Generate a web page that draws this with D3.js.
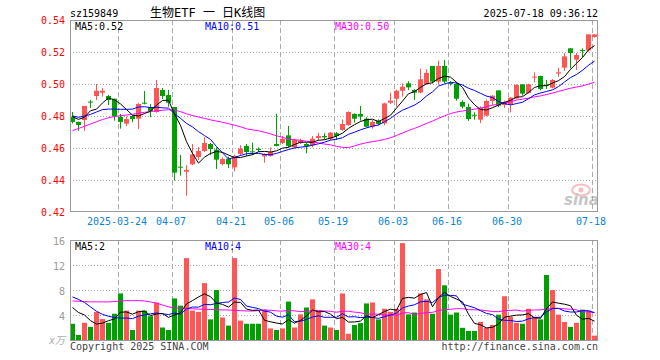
<!DOCTYPE html>
<html>
<head>
<meta charset="utf-8">
<script src="https://cdn.jsdelivr.net/npm/d3@7"></script>
<style>
  body { margin: 0; background: #fff; }
  text { font-family: "DejaVu Sans Mono", "Noto Sans CJK SC", monospace; }
</style>
</head>
<body>
<div id="chart"></div>
<script>
// trading days shown on the chart
var dates = [
  "2025-03-12","2025-03-13","2025-03-14","2025-03-17","2025-03-18","2025-03-19","2025-03-20","2025-03-21",
  "2025-03-24","2025-03-25","2025-03-26","2025-03-27","2025-03-28","2025-03-31",
  "2025-04-01","2025-04-02","2025-04-03","2025-04-07","2025-04-08","2025-04-09","2025-04-10","2025-04-11",
  "2025-04-14","2025-04-15","2025-04-16","2025-04-17","2025-04-18","2025-04-21","2025-04-22","2025-04-23",
  "2025-04-24","2025-04-25","2025-04-28","2025-04-29","2025-04-30",
  "2025-05-06","2025-05-07","2025-05-08","2025-05-09","2025-05-12","2025-05-13","2025-05-14","2025-05-15",
  "2025-05-16","2025-05-19","2025-05-20","2025-05-21","2025-05-22","2025-05-23","2025-05-26","2025-05-27",
  "2025-05-28","2025-05-29","2025-05-30",
  "2025-06-03","2025-06-04","2025-06-05","2025-06-06","2025-06-09","2025-06-10","2025-06-11","2025-06-12",
  "2025-06-13","2025-06-16","2025-06-17","2025-06-18","2025-06-19","2025-06-20","2025-06-23","2025-06-24",
  "2025-06-25","2025-06-26","2025-06-27","2025-06-30",
  "2025-07-01","2025-07-02","2025-07-03","2025-07-04","2025-07-07","2025-07-08","2025-07-09","2025-07-10",
  "2025-07-11","2025-07-14","2025-07-15","2025-07-16","2025-07-17","2025-07-18"
];

var open = [
  0.4796,0.4763,0.4775,0.4890,0.4925,0.4946,0.4925,0.4908,0.4794,0.4752,
  0.4800,0.4783,0.4883,0.4856,0.4825,0.4963,0.4931,0.4856,0.4483,0.4452,
  0.4498,0.4544,0.4581,0.4625,0.4590,0.4500,0.4533,0.4479,0.4563,0.4613,
  0.4579,0.4594,0.4548,0.4550,0.4625,0.4631,0.4679,0.4604,0.4633,0.4625,
  0.4617,0.4663,0.4675,0.4658,0.4692,0.4713,0.4744,0.4813,0.4813,0.4783,
  0.4733,0.4771,0.4754,0.4883,0.4908,0.4958,0.5004,0.4963,0.4946,0.5000,
  0.5113,0.5015,0.5113,0.5006,0.5000,0.4888,0.4856,0.4808,0.4777,0.4802,
  0.4894,0.4960,0.4869,0.4873,0.4910,0.4998,0.4944,0.5042,0.5050,0.4996,
  0.4977,0.5065,0.5102,0.5223,0.5152,0.5213,0.5210,0.5294
];
var high = [
  0.4825,0.4765,0.4863,0.4900,0.5000,0.4975,0.4931,0.4908,0.4813,0.4796,
  0.4806,0.4883,0.4956,0.4875,0.5025,0.4975,0.4963,0.4856,0.4556,0.4494,
  0.4625,0.4606,0.4667,0.4631,0.4604,0.4542,0.4546,0.4558,0.4617,0.4625,
  0.4633,0.4604,0.4567,0.4604,0.4813,0.4675,0.4738,0.4658,0.4658,0.4631,
  0.4675,0.4696,0.4692,0.4700,0.4700,0.4779,0.4829,0.4817,0.4863,0.4792,
  0.4775,0.4779,0.4883,0.4946,0.4963,0.5004,0.5017,0.4967,0.5096,0.5092,
  0.5113,0.5146,0.5150,0.5017,0.5008,0.4898,0.4877,0.4823,0.4860,0.4902,
  0.4931,0.4960,0.4896,0.4919,0.4998,0.5000,0.5002,0.5073,0.5052,0.5025,
  0.5031,0.5102,0.5194,0.5225,0.5194,0.5223,0.5310,0.5313
];
var low = [
  0.4754,0.4708,0.4706,0.4850,0.4900,0.4921,0.4869,0.4771,0.4721,0.4738,
  0.4761,0.4719,0.4873,0.4792,0.4821,0.4906,0.4858,0.4396,0.4427,0.4302,
  0.4494,0.4525,0.4575,0.4556,0.4469,0.4492,0.4475,0.4454,0.4550,0.4550,
  0.4556,0.4575,0.4508,0.4546,0.4610,0.4625,0.4604,0.4598,0.4625,0.4567,
  0.4604,0.4646,0.4654,0.4650,0.4650,0.4708,0.4738,0.4758,0.4771,0.4729,
  0.4721,0.4742,0.4742,0.4875,0.4858,0.4921,0.4963,0.4900,0.4942,0.4996,
  0.5004,0.4996,0.5004,0.4990,0.4896,0.4848,0.4769,0.4777,0.4756,0.4798,
  0.4869,0.4856,0.4850,0.4823,0.4906,0.4927,0.4940,0.5010,0.4960,0.4969,
  0.4973,0.5044,0.5081,0.5098,0.5088,0.5169,0.5202,0.5290
];
var close = [
  0.4763,0.4744,0.4863,0.4885,0.4958,0.4958,0.4900,0.4800,0.4763,0.4781,
  0.4781,0.4875,0.4879,0.4831,0.4975,0.4925,0.4883,0.4446,0.4479,0.4463,
  0.4560,0.4581,0.4631,0.4594,0.4527,0.4531,0.4498,0.4550,0.4596,0.4575,
  0.4573,0.4588,0.4563,0.4575,0.4613,0.4658,0.4613,0.4650,0.4646,0.4613,
  0.4658,0.4675,0.4667,0.4696,0.4675,0.4750,0.4825,0.4783,0.4796,0.4733,
  0.4763,0.4750,0.4879,0.4896,0.4958,0.4983,0.4979,0.4946,0.5029,0.5070,
  0.5015,0.5113,0.5015,0.5002,0.4908,0.4858,0.4781,0.4804,0.4852,0.4894,
  0.4927,0.4865,0.4888,0.4915,0.4994,0.4940,0.4998,0.5046,0.4969,0.4992,
  0.5025,0.5073,0.5173,0.5194,0.5181,0.5206,0.5310,0.5310
];
// volume, in 万
var volume = [
  2.6,0.8,2.75,2.1,4.5,3.35,2.75,4.2,7.45,4.7,
  1.6,4.7,4.7,3.8,6.0,2.0,1.6,6.65,5.5,13.1,
  4.7,4.5,9.1,3.3,8.0,3.6,2.3,13.1,3.1,2.6,
  2.6,2.6,4.9,1.85,1.6,1.85,6.15,2.0,4.1,5.2,
  6.5,4.7,2.3,2.0,1.6,7.45,1.0,2.4,2.7,5.85,
  6.0,3.3,5.0,4.5,5.0,15.5,4.1,4.4,7.45,6.5,
  4.2,11.35,8.75,4.05,4.4,1.95,1.45,1.45,2.9,1.95,
  2.4,4.05,7.0,3.7,2.75,2.6,5.0,3.7,3.3,10.4,
  8.0,4.05,2.9,2.1,2.75,4.85,4.7,0.7
];

// moving average values at the left edge (their windows start before the chart)
var ma5Head = [0.4796,0.4779,0.4792,0.4833];
var ma10Head = [0.4800,0.4792,0.4800,0.4810,0.4825,0.4840,0.4843,0.4843,0.4842];
var ma30Head = [0.4708,0.4722,0.4736,0.4750,0.4764,0.4778,0.4789,0.4797,0.4802,0.4806,
  0.4811,0.4817,0.4823,0.4828,0.4832,0.4836,0.4839,0.4838,0.4827,0.4814,
  0.4803,0.4794,0.4785,0.4776,0.4768,0.4761,0.4752,0.4743,0.4733];
var vma5Head = [5.2,4.4,4.0,3.1];
var vma10Head = [6.9,6.5,6.0,5.3,4.6,4.1,3.8,3.6,3.5];
var vma30Head = [6.25,6.2,6.15,6.1,6.1,6.1,6.1,6.15,6.25,6.3,
  6.3,6.3,6.25,6.1,5.9,5.6,5.3,5.15,5.1,5.05,
  5.0,4.95,4.9,4.88,4.85,4.82,4.8,4.75,4.7];

var tickDates = ["2025-03-24","2025-04-07","2025-04-21","2025-05-06","2025-05-19","2025-06-03","2025-06-16","2025-06-30","2025-07-18"];
var tickLabels = ["2025-03-24","04-07","04-21","05-06","05-19","06-03","06-16","06-30","07-18"];
var priceTicks = [0.42,0.44,0.46,0.48,0.50,0.52,0.54];
var volTicks = [4,8,12,16];

var RED = "#ff5555", GREEN = "#00a000";
var W = 660, H = 360;
var left = 70, right = 598;

function movingAvg(values, n, head) {
  return values.map(function (v, i) {
    if (i < n - 1) return head[i];
    return d3.mean(values.slice(i - n + 1, i + 1));
  });
}

var svg = d3.select("#chart").append("svg").attr("width", W).attr("height", H);

var x = d3.scaleBand().domain(dates).range([left, 597]).paddingInner(1 / 6).paddingOuter(0);
var bw = x.bandwidth();
function cx(d) { return x(d) + bw / 2; }

var y = d3.scaleLinear().domain([0.42, 0.54]).range([212, 20]);
var yv = d3.scaleLinear().domain([0, 16]).range([340, 240]);

// ---------- grid ----------
var grid = svg.append("g");
grid.selectAll(".hp").data([0.44, 0.46, 0.48, 0.50, 0.52]).enter().append("line")
  .attr("x1", left).attr("x2", right)
  .attr("y1", function (d) { return Math.round(y(d)) + 0.5; })
  .attr("y2", function (d) { return Math.round(y(d)) + 0.5; })
  .attr("stroke", "#aaa").attr("stroke-dasharray", "1,2");
grid.selectAll(".hv").data([4, 8, 12]).enter().append("line")
  .attr("x1", left).attr("x2", right)
  .attr("y1", function (d) { return Math.round(yv(d)) + 0.5; })
  .attr("y2", function (d) { return Math.round(yv(d)) + 0.5; })
  .attr("stroke", "#aaa").attr("stroke-dasharray", "1,2");
[[20, 211], [240, 340]].forEach(function (r) {
  grid.selectAll(null).data(tickDates).enter().append("line")
    .attr("x1", function (d) { return x(d) + 0.5; })
    .attr("x2", function (d) { return x(d) + 0.5; })
    .attr("y1", r[0]).attr("y2", r[1])
    .attr("stroke", "#aaa").attr("stroke-dasharray", "5,3");
});

// sina watermark
var wm = svg.append("g").attr("opacity", 0.55);
wm.append("ellipse").attr("cx", 581).attr("cy", 190).attr("rx", 9).attr("ry", 5.5)
  .attr("fill", "none").attr("stroke", "#f08a8a").attr("stroke-width", 2);
wm.append("circle").attr("cx", 581).attr("cy", 190).attr("r", 2.5).attr("fill", "#f08a8a");
wm.append("text").attr("x", 564).attr("y", 205).text("sina")
  .style("font-family", "DejaVu Sans").style("font-weight", "bold").style("font-style", "italic")
  .style("font-size", "15px").attr("fill", "#999");

// ---------- candles ----------
var idx = d3.range(dates.length);
var candles = svg.append("g").selectAll("g").data(idx).enter().append("g");
candles.append("line")
  .attr("x1", function (i) { return Math.floor(cx(dates[i])) + 0.5; })
  .attr("x2", function (i) { return Math.floor(cx(dates[i])) + 0.5; })
  .attr("y1", function (i) { return y(high[i]); })
  .attr("y2", function (i) { return y(low[i]); })
  .attr("stroke", function (i) { return close[i] >= open[i] ? RED : GREEN; });
candles.append("rect")
  .attr("x", function (i) { return x(dates[i]); })
  .attr("width", bw)
  .attr("y", function (i) { return y(Math.max(open[i], close[i])); })
  .attr("height", function (i) { return Math.max(1, Math.abs(y(open[i]) - y(close[i]))); })
  .attr("fill", function (i) { return close[i] >= open[i] ? RED : GREEN; });

// ---------- volume bars ----------
svg.append("g").selectAll("rect").data(idx).enter().append("rect")
  .attr("x", function (i) { return x(dates[i]); })
  .attr("width", bw)
  .attr("y", function (i) { return yv(volume[i]); })
  .attr("height", function (i) { return yv(0) - yv(volume[i]); })
  .attr("fill", function (i) { return close[i] >= open[i] ? RED : GREEN; });

// ---------- moving averages ----------
var maDefs = [
  { n: 5, head: ma5Head, vhead: vma5Head, color: "#000" },
  { n: 10, head: ma10Head, vhead: vma10Head, color: "#0000ff" },
  { n: 30, head: ma30Head, vhead: vma30Head, color: "#ff00ff" }
];
maDefs.slice().reverse().forEach(function (m) {
  var p = movingAvg(close, m.n, m.head);
  var v = movingAvg(volume, m.n, m.vhead);
  svg.append("path").datum(idx)
    .attr("d", d3.line().x(function (i) { return cx(dates[i]); }).y(function (i) { return y(p[i]); }))
    .attr("fill", "none").attr("stroke", m.color).attr("stroke-width", 1);
  svg.append("path").datum(idx)
    .attr("d", d3.line().x(function (i) { return cx(dates[i]); }).y(function (i) { return yv(v[i]); }))
    .attr("fill", "none").attr("stroke", m.color).attr("stroke-width", 1);
});

// ---------- frames ----------
svg.append("rect").attr("x", left + 0.5).attr("y", 20.5).attr("width", right - left - 1).attr("height", 191)
  .attr("fill", "none").attr("stroke", "#999");
svg.append("rect").attr("x", left + 0.5).attr("y", 240.5).attr("width", right - left - 1).attr("height", 100)
  .attr("fill", "none").attr("stroke", "#999");

// ---------- axes ----------
var yAxis = svg.append("g").attr("transform", "translate(" + left + ",0)")
  .call(d3.axisLeft(y).tickValues(priceTicks).tickFormat(d3.format(".2f")).tickSize(0).tickPadding(5));
yAxis.select(".domain").remove();
yAxis.selectAll("text").attr("dy", "0.37em").attr("fill", "#f00")
  .style("font-family", "DejaVu Sans Mono").style("font-size", "10px");

var vAxis = svg.append("g").attr("transform", "translate(" + left + ",0)")
  .call(d3.axisLeft(yv).tickValues(volTicks).tickFormat(d3.format("d")).tickSize(0).tickPadding(5));
vAxis.select(".domain").remove();
vAxis.selectAll("text").attr("dy", "0.4em").attr("fill", "#999")
  .style("font-family", "DejaVu Sans Mono").style("font-size", "10px");

var xAxis = svg.append("g").attr("transform", "translate(-3.5,225)")
  .call(d3.axisBottom(x).tickValues(tickDates).tickFormat(function (d, i) { return tickLabels[i]; }).tickSize(0));
xAxis.select(".domain").remove();
xAxis.selectAll("text").attr("y", 0).attr("dy", null).attr("fill", "#0b84d6")
  .style("font-family", "DejaVu Sans Mono").style("font-size", "10px");

// ---------- texts ----------
function label(tx, ty, s, color, size) {
  return svg.append("text").attr("x", tx).attr("y", ty).text(s)
    .attr("fill", color || "#000").style("font-size", (size || 10) + "px");
}
label(70, 16.5, "sz159849");
label(150, 17, "生物ETF 一 日K线图", "#000", 12);
label(598, 16.5, "2025-07-18 09:36:12").attr("text-anchor", "end");

label(75, 29.5, "MA5:0.52", "#000");
label(205, 29.5, "MA10:0.51", "#0000ff");
label(335, 29.5, "MA30:0.50", "#ff00ff");

label(75, 249.5, "MA5:2", "#000");
label(205, 249.5, "MA10:4", "#0000ff");
label(335, 249.5, "MA30:4", "#ff00ff");

label(49, 344, "x万", "#aaa", 10).style("font-style", "italic");
label(70, 349.5, "Copyright 2025 SINA.COM", "#444");
label(598, 349.5, "http://finance.sina.com.cn", "#444").attr("text-anchor", "end");
</script>
</body>
</html>
